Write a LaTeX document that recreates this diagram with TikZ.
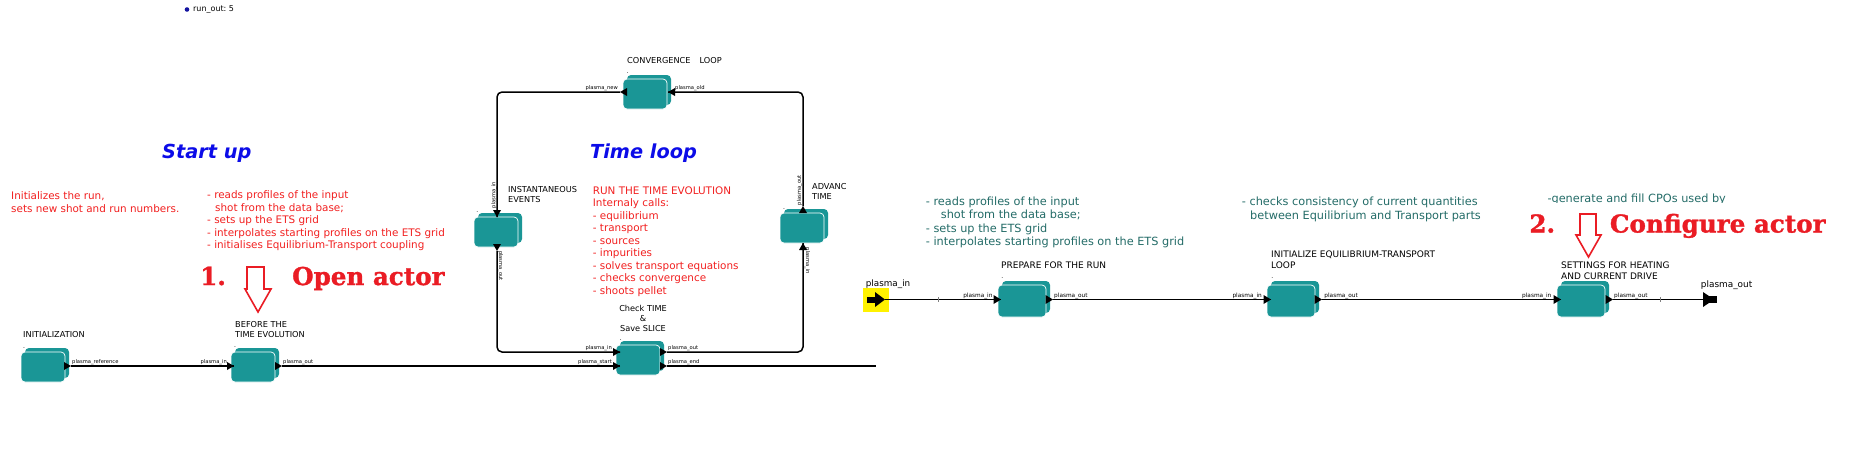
\documentclass[tikz,border=0pt]{standalone}
\usepackage{fontspec}
\newfontfamily\dv{DejaVu Sans}
\newfontfamily\dvs{DejaVu Serif}[BoldFeatures={FakeBold=1.3}]
\definecolor{boxteal}{RGB}{26,150,150}
\definecolor{txtred}{RGB}{242,32,32}
\definecolor{bigred}{RGB}{234,28,36}
\definecolor{ttblue}{RGB}{12,12,232}
\definecolor{txtteal}{RGB}{36,108,104}
\definecolor{navydot}{RGB}{20,20,160}
\newcommand\fs[2]{\fontsize{#1}{#2}\selectfont}
\newcommand\portw{7}
\newcommand\porth{4}
\newcommand\pR[3]{\coordinate (#1) at (#2,#3);\fill (#2-\portw,#3-\porth) -- (#2,#3) -- (#2-\portw,#3+\porth) -- cycle;}
\newcommand\pL[3]{\coordinate (#1) at (#2,#3);\fill (#2+\portw,#3-\porth) -- (#2,#3) -- (#2+\portw,#3+\porth) -- cycle;}
\newcommand\pU[3]{\coordinate (#1) at (#2,#3);\fill (#2-\porth,#3+\portw) -- (#2,#3) -- (#2+\porth,#3+\portw) -- cycle;}
\newcommand\pD[3]{\coordinate (#1) at (#2,#3);\fill (#2-\porth,#3-\portw) -- (#2,#3) -- (#2+\porth,#3-\portw) -- cycle;}
\newcommand\mkactor[5]{%
  \fill[boxteal, rounded corners=4pt] (#2+4,#3-4) rectangle ++(#4,#5);
  \node[abox, minimum width=#4pt, minimum height=#5pt] (#1) at (#2+#4/2,#3+#5/2) {};}
\tikzset{
  abox/.style={draw=white, line width=0.7pt, fill=boxteal, rounded corners=4pt, inner sep=0},
  wire/.style={line width=1.5pt, black, rounded corners=5pt},
  plbl/.style={inner sep=0, font=\dv\fs{5.2}{6}},
  plblr/.style={inner sep=0, font=\dv\fs{5.8}{7}},
  albl/.style={inner sep=0, align=left, anchor=west, font=\dv\fs{8.2}{10}},
  alblr/.style={inner sep=0, align=left, anchor=west, font=\dv\fs{9}{10.8}},
  redtxt/.style={inner sep=0, align=left, anchor=west, text=txtred, font=\dv\fs{10.4}{12.5}},
  tealtxt/.style={inner sep=0, align=left, anchor=west, text=txtteal, font=\dv\fs{11.3}{13.5}},
  title/.style={inner sep=0, anchor=west, text=ttblue, font=\dv\bfseries\itshape\fs{19.3}{22}},
  bigtxt/.style={inner sep=0, anchor=base west, text=bigred, font=\dvs\bfseries\fs{24.6}{26}},
  hollow/.style={draw=bigred, line width=1.6pt, line join=miter},
  dotlbl/.style={inner sep=0, anchor=base, font=\dv\fs{6}{6}},
  tick/.style={line width=0.5pt, gray}
}
\begin{document}
\begin{tikzpicture}[x=1pt,y=-1pt]
\useasboundingbox (0,0) rectangle (1866,451);
\fill[white] (0,0) rectangle (1866,451);

% run_out
\fill[navydot] (187,9.5) circle (2.3);
\node[inner sep=0, anchor=west, font=\dv\fs{8}{9}] (runout) at (193,9.5) {run\_out:\ 5};

% titles
\node[title] (startup) at (162,153.5) {Start up};
\node[title] (timeloop) at (590,153.3) {Time loop};

% red texts
\node[redtxt] (initdesc) at (11,202) {Initializes the run,\\sets new shot and run numbers.};
\node[redtxt] (beforedesc) at (207,220.7) {- reads profiles of the input\\\hspace*{8pt}shot from the data base;\\- sets up the ETS grid\\- interpolates starting profiles on the ETS grid\\- initialises Equilibrium-Transport coupling};
\node[redtxt] (rundesc) at (592.7,241.7) {RUN THE TIME EVOLUTION\\Internaly calls:\\- equilibrium\\- transport\\- sources\\- impurities\\- solves transport equations\\- checks convergence\\- shoots pellet};

% open actor annotation
\node[bigtxt] (one) at (200,285) {1.};
\node[bigtxt] (openact) at (292,285) {Open actor};
\draw[hollow] (247,267) -- (264,267) -- (264,289) -- (271,289) -- (258,312) -- (245,289) -- (247,289) -- cycle;

% ---------- left workflow ----------
\mkactor{init}{21}{352}{44}{30}
\mkactor{before}{231}{352}{44}{30}
\mkactor{check}{616}{345}{44}{30}
\mkactor{adv}{780}{213}{44}{30}
\mkactor{conv}{623}{79}{44}{30}
\mkactor{inst}{474}{217}{44}{30}

\node[albl] (initlbl) at (23,335) {INITIALIZATION};
\node[albl] (beforelbl) at (235,330) {BEFORE THE\\TIME EVOLUTION};
\node[albl, align=center, anchor=center] (checklbl) at (643,318) {Check TIME\\\&\\Save SLICE};
\node[albl] (convlbl) at (627,61) {CONVERGENCE\hspace{9pt}LOOP};
\node[albl] (instlbl) at (508,195) {INSTANTANEOUS\\EVENTS};
\begin{scope}
  \clip (805,175) rectangle (845.3,205);
  \node[albl] (advlbl) at (812,191) {ADVANCE\\TIME};
\end{scope}

\node[dotlbl] at (24,348) {.};
\node[dotlbl] at (235,347) {.};
\node[dotlbl] at (620.7,340) {.};
\node[dotlbl] at (627.7,73.5) {.};
\node[dotlbl] at (477.3,212.5) {.};
\node[dotlbl] at (784,209) {.};

\coordinate (endc) at (876,366);
% ports (coordinates at the tips)
\coordinate (init-out) at (71,366);
\coordinate (before-in) at (234,366);
\coordinate (before-out) at (282,366);
\coordinate (check-in) at (620,352);
\coordinate (check-start) at (620,366);
\coordinate (check-out) at (667,352);
\coordinate (check-end) at (667,366);
\coordinate (adv-in) at (803,243);
\coordinate (adv-out) at (803,206);
\coordinate (conv-old) at (668,92);
\coordinate (conv-new) at (620,92);
\coordinate (inst-in) at (497,217);
\coordinate (inst-out) at (497,251);

\draw[wire] (init-out) -- (before-in);
\draw[wire] (before-out) -- (check-start);
\draw[wire] (check-end) -- (endc);
\draw[wire] (check-out) -| (adv-in);
\draw[wire] (adv-out) |- (conv-old);
\draw[wire] (conv-new) -| (inst-in);
\draw[wire] (inst-out) |- (check-in);

\pR{p1}{71}{366}
\pR{p2}{234}{366}
\pR{p3}{282}{366}
\pR{p4}{620}{352}
\pR{p5}{620}{366}
\pR{p6}{667}{352}
\pR{p7}{667}{366}
\pU{p8}{803}{243}
\pU{p9}{803}{206}
\pL{p10}{668}{92}
\pL{p11}{620}{92}
\pD{p12}{497}{217}
\pD{p13}{497}{251}

\node[plbl, anchor=west] at (72,362) {plasma\_reference};
\node[plbl, anchor=east] at (227,362) {plasma\_in};
\node[plbl, anchor=west] at (283,362) {plasma\_out};
\node[plbl, anchor=east] at (612,348) {plasma\_in};
\node[plbl, anchor=east] at (612,362) {plasma\_start};
\node[plbl, anchor=west] at (668,348) {plasma\_out};
\node[plbl, anchor=west] at (668,362) {plasma\_end};
\node[plbl, anchor=east] at (618,88) {plasma\_new};
\node[plbl, anchor=west] at (675,88) {plasma\_old};
\node[plbl, rotate=90] at (494,195) {plasma\_in};
\node[plbl, rotate=-90] at (500.5,266) {plasma\_out};
\node[plbl, rotate=90] at (799.5,190) {plasma\_out};
\node[plbl, rotate=-90] at (807.5,261) {plasma\_in};

% ---------- right panel ----------
\node[tealtxt] (prepdesc) at (925.7,222.5) {- reads profiles of the input\\\hspace*{15pt}shot from the data base;\\- sets up the ETS grid\\- interpolates starting profiles on the ETS grid};
\node[tealtxt] (initeqdesc) at (1241.7,209.2) {- checks consistency of current quantities\\\hspace*{8.3pt}between Equilibrium and Transport parts};
\begin{scope}
  \clip (1540,185) rectangle (1740,202.6);
  \node[tealtxt] (setdesc) at (1547.3,199) {-generate and fill CPOs used by};
\end{scope}

\node[bigtxt] (two) at (1529.2,232.5) {2.};
\node[bigtxt] (confact) at (1609.7,232.5) {Configure actor};
\draw[hollow] (1580,214) -- (1596,214) -- (1596,235) -- (1601,235) -- (1588.5,257) -- (1576,235) -- (1580,235) -- cycle;

\mkactor{prep}{998}{285}{48}{32}
\mkactor{initeq}{1267}{285}{48}{32}
\mkactor{settings}{1557}{285}{48}{32}

\node[alblr] (preplbl) at (1001,265.7) {PREPARE FOR THE RUN};
\node[alblr] (initeqlbl) at (1271,260) {INITIALIZE EQUILIBRIUM-TRANSPORT\\LOOP};
\node[alblr] (setlbl) at (1561,271) {SETTINGS FOR HEATING\\AND CURRENT DRIVE};
\node[dotlbl] at (1002.3,278.5) {.};
\node[dotlbl] at (1272.3,278.5) {.};

% external ports
\fill[yellow] (863,288) rectangle (889,312);
\fill (866.5,296.5) rectangle (875.5,302.5);
\fill (875,292) -- (885,299.5) -- (875,307) -- cycle;
\coordinate (extin) at (885,299.5);
\node[inner sep=0, anchor=west, font=\dv\fs{8.8}{10}] (extinlbl) at (865.7,284) {plasma\_in};
\coordinate (extout) at (1703,299.5);
\node[inner sep=0, anchor=west, font=\dv\fs{8.9}{10}] (extoutlbl) at (1700.7,285) {plasma\_out};

\coordinate (prep-in) at (1001,299.5);
\coordinate (prep-out) at (1053,299.5);
\coordinate (initeq-in) at (1271,299.5);
\coordinate (initeq-out) at (1322,299.5);
\coordinate (set-in) at (1561,299.5);
\coordinate (set-out) at (1613,299.5);

\draw[wire] (extin) -- (prep-in);
\draw[wire] (prep-out) -- (initeq-in);
\draw[wire] (initeq-out) -- (set-in);
\draw[wire] (set-out) -- (extout);
\draw[tick] (938,297) -- (938,302);
\draw[tick] (1660,297) -- (1660,302);

\fill (1703,292) -- (1714,299.5) -- (1703,307) -- cycle;
\fill (1708,296) rectangle (1717,303);

\renewcommand\portw{7.5}
\renewcommand\porth{4.5}
\pR{q1}{1001}{299.5}
\pR{q2}{1053}{299.5}
\pR{q3}{1271}{299.5}
\pR{q4}{1322}{299.5}
\pR{q5}{1561}{299.5}
\pR{q6}{1613}{299.5}

\node[plblr, anchor=east] at (992.7,295.5) {plasma\_in};
\node[plblr, anchor=west] at (1054,295.5) {plasma\_out};
\node[plblr, anchor=east] at (1262,295.5) {plasma\_in};
\node[plblr, anchor=west] at (1324.2,295.5) {plasma\_out};
\node[plblr, anchor=east] at (1551.6,295.5) {plasma\_in};
\node[plblr, anchor=west] at (1614,295.5) {plasma\_out};
\end{tikzpicture}
\end{document}
